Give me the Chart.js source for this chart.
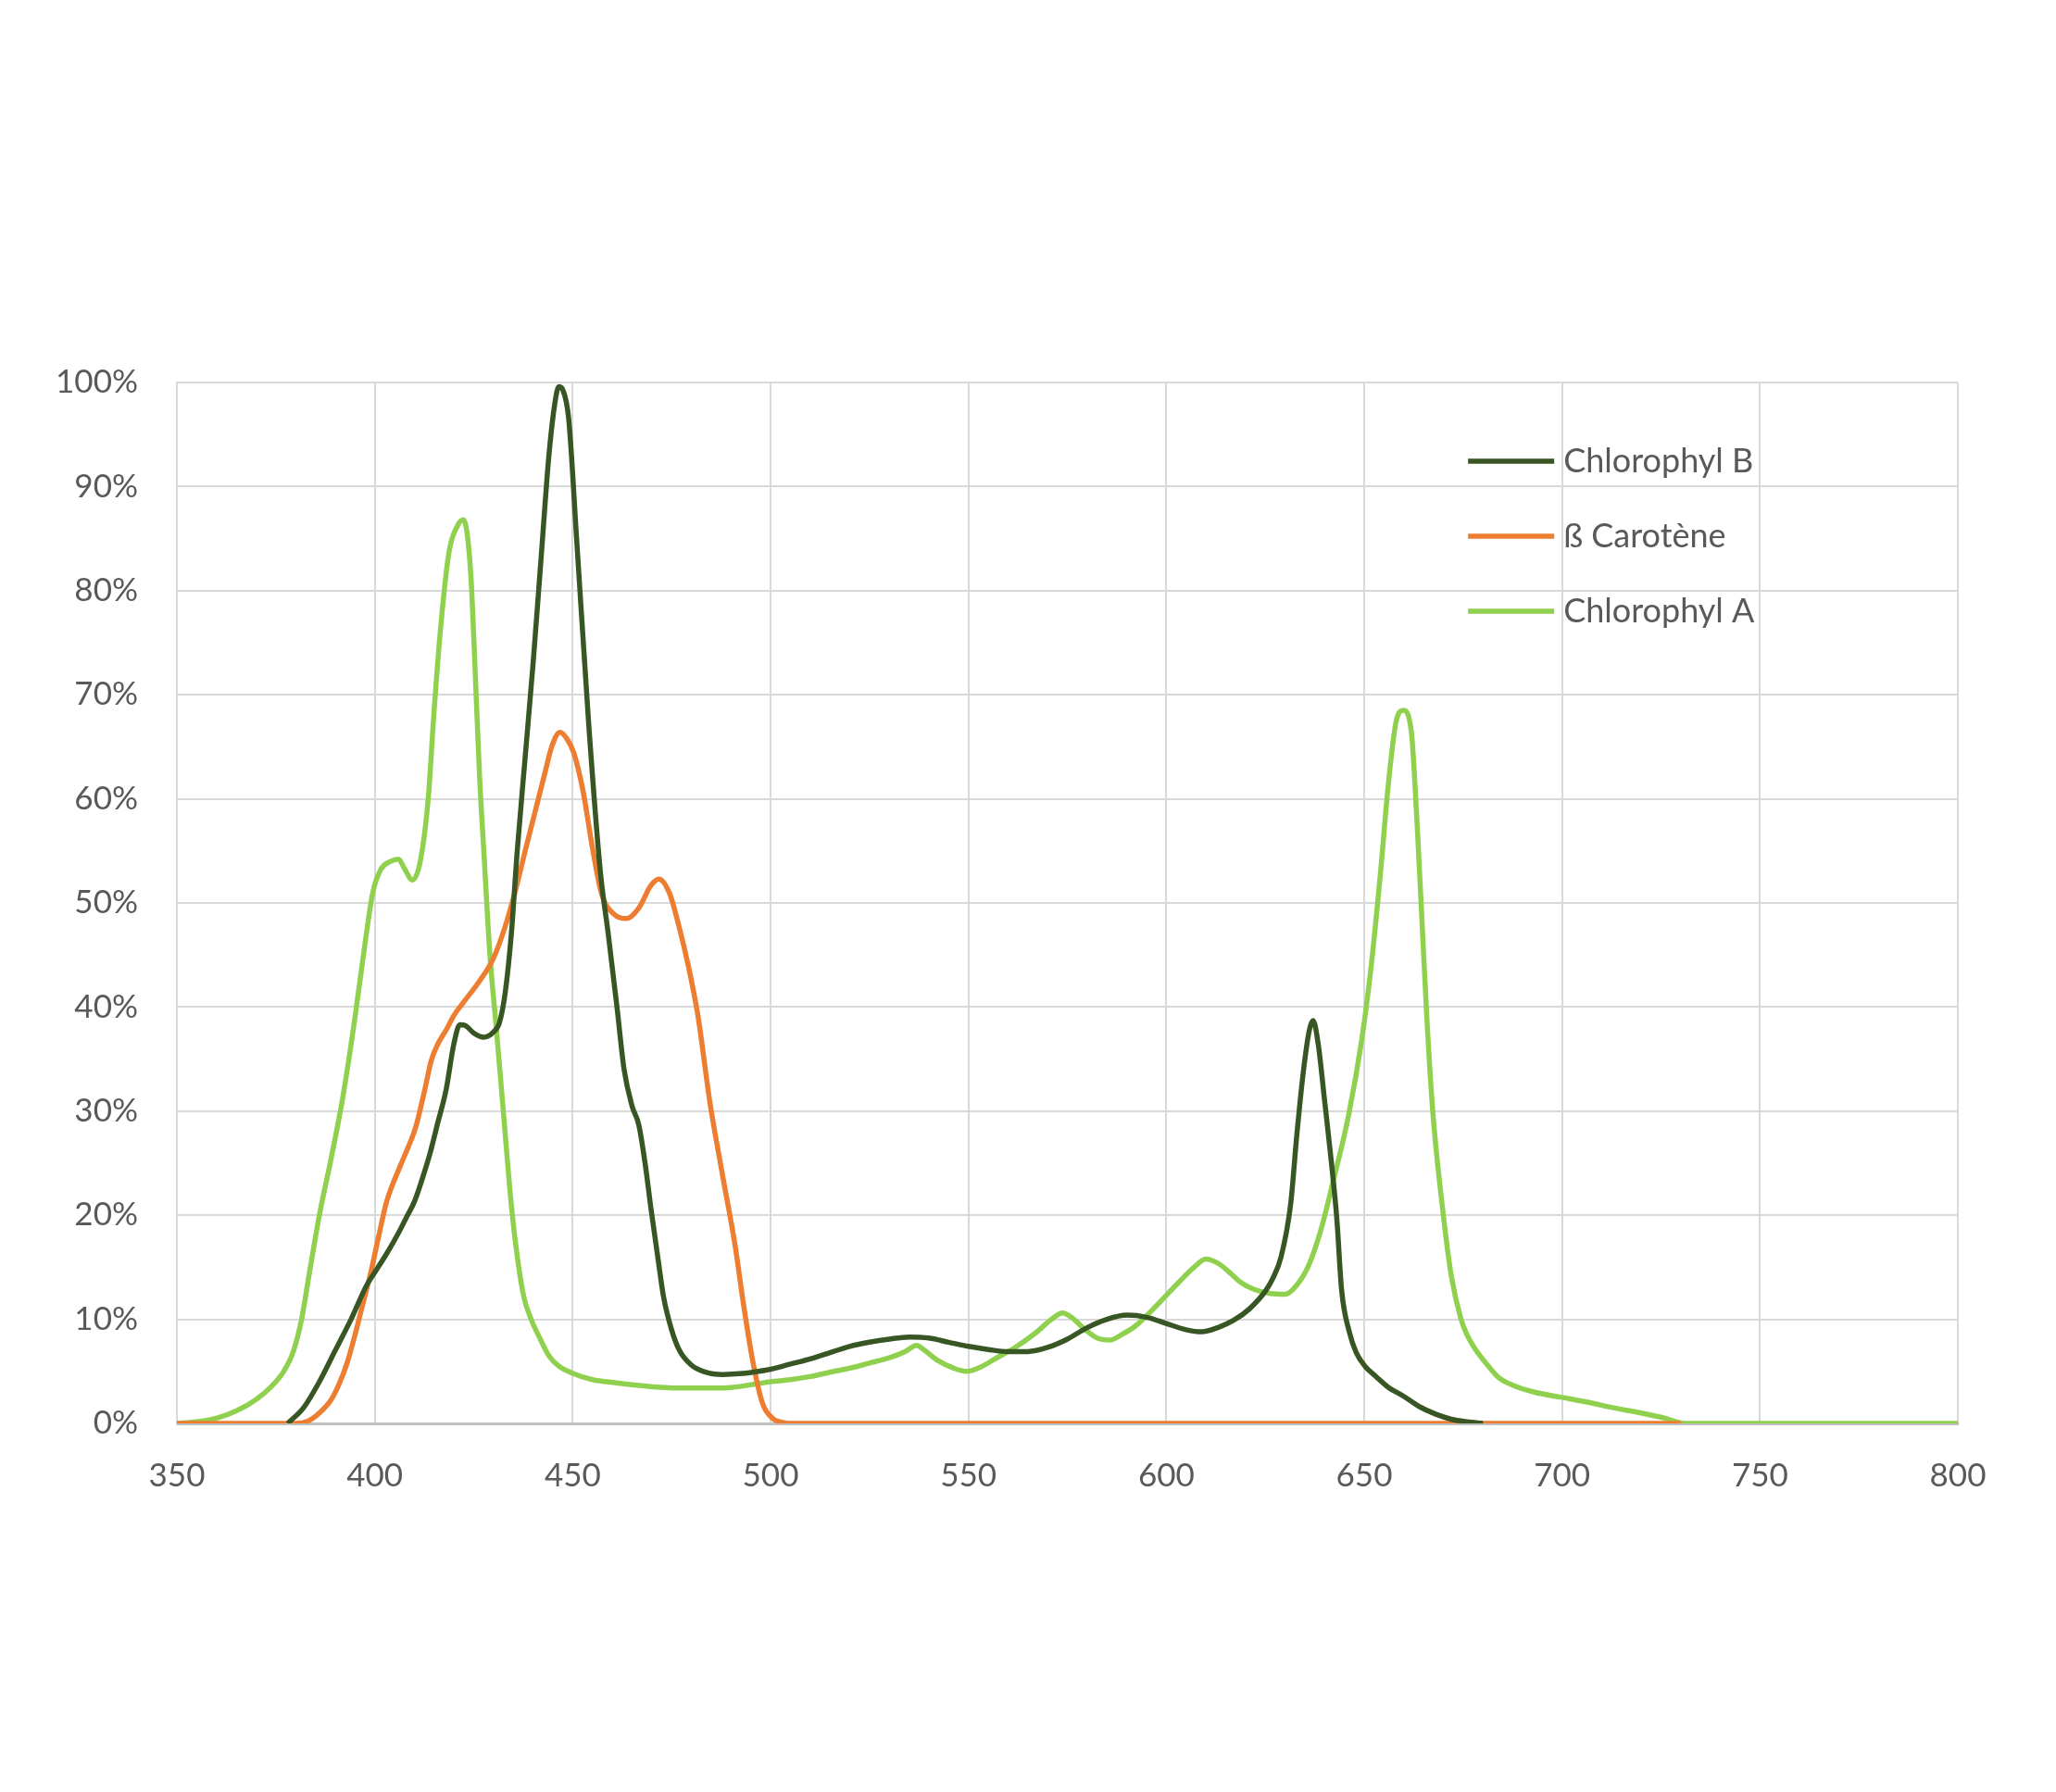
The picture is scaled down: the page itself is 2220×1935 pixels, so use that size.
<!DOCTYPE html>
<html>
<head>
<meta charset="utf-8">
<script src="https://cdn.jsdelivr.net/npm/chart.js@4.4.1/dist/chart.umd.min.js"></script>
<style>
  html, body { margin: 0; padding: 0; background: #ffffff; }
  #wrap { width: 2220px; height: 1935px; }
</style>
</head>
<body>
<div id="wrap"><canvas id="c" width="2220" height="1935"></canvas></div>
<script>
// ---------- DATA (wavelength in nm, absorption in %) ----------
const seriesNames = ["Chlorophyl B", "ß Carotène", "Chlorophyl A"];
const seriesColors = ["#375623", "#ED7D31", "#8FD14F"];

const chlBWavelengths = [378,382,386,390,394,398,400,403,406,408,410,412,414,416,418,420,421.5,423,425,427.5,430,431.5,433,434.5,436,438,440,442,444,445.5,446.5,447.5,449,451,454,457,459,461.2,463,465,466.7,468.3,469.8,471.5,473,475,477,480,483,488,493,497,500,505,510,515,520,525,530,535,540,545,550,555,560,565,570,575,580,585,590,595,600,605,609,613,617,621,625.2,627,629,631.4,633,634.6,636.1,637.1,638.4,640,641.6,643.1,644.3,646.3,648,650.2,653,656,660,664,668,672,676,680];
const chlBValues      = [0,1.5,4,7,10,13.3,14.5,16.3,18.3,19.8,21.3,23.5,26,29,32,36.5,38.3,38.2,37.5,37.1,37.6,38.5,41.5,47,55,64,73,83,93,98,99.6,99.3,96.5,85,67.5,53,47,40,34,30.5,28.7,25,20.6,16,12.1,9,7,5.6,5.0,4.7,4.8,5,5.2,5.7,6.2,6.8,7.4,7.8,8.1,8.3,8.2,7.8,7.4,7.1,6.9,6.9,7.3,8.1,9.2,10,10.4,10.2,9.6,9.0,8.8,9.2,9.9,11,12.8,14,16,21,27.8,33.7,37.7,38.7,36.4,31,25.5,19.6,12.8,8.7,6.8,5.5,4.5,3.5,2.6,1.6,0.9,0.4,0.15,0];

const carotWavelengths = [350,380,383,386,389,391,393,395,397,399,401,403,406.4,408.4,410.3,412.6,414.3,416,418.2,420,422.1,426.1,430,433,435.4,438,440.6,443,444.7,446.8,448.5,450.3,452.6,455,457.3,460.5,463.6,466.7,469.8,471.8,474.5,476.9,479.2,481.6,484.7,487.8,491,493.3,495.7,498,500.5,503,505,730];
const carotValues      = [0,0,0.2,1.0,2.3,3.8,5.8,8.5,11.5,14.5,18,21.3,24.7,26.5,28.4,32,34.9,36.5,37.9,39.2,40.3,42.3,44.7,47.8,51,55,58.9,62.5,65,66.4,65.8,64.4,60.8,55.3,50.9,48.9,48.5,49.5,51.7,52.3,50.9,47.7,44,39.3,30.8,24,17.2,11.1,5.6,1.9,0.5,0.1,0,0];

const chlAWavelengths = [350,355,360,365,370,374,377,379.5,381.5,383.5,386,389,392,395,397.5,399.5,401.5,404,406,407.5,409.5,411.5,413.5,415,416.7,418.8,421,422.4,423.5,424.5,425.5,426.5,427.6,429.1,430.7,432.3,434.6,436.2,437.7,439.5,441.7,444,446.5,449.5,455,461,468,477,485,490,496.5,500,505,510,516,520,525,530,534,536.9,539,542,546.3,549.5,553,556.7,561.8,567,571,573.8,576,579.5,582.5,585.7,589,592,598,603,607,610,613,616,619,622,626,630,633,636,639,642,646,649.4,651.7,654.1,656,658,659.9,661.9,663.4,664.6,665.8,667.3,669.7,672,674.4,676,678.3,681.4,684,687.4,693,700,707,713,720,726,731,740,800];
const chlAValues      = [0,0.15,0.5,1.2,2.3,3.6,5,7,10,14.5,20,25.5,31.5,39,46,51,53.2,54,54.2,53.3,52.2,54,60,68.5,76.7,83.8,86.3,86.8,85,80,71,62,54.7,45,38,30.8,20.6,15.5,12.1,10,8.2,6.5,5.5,4.9,4.2,3.9,3.6,3.4,3.4,3.45,3.8,4.0,4.2,4.5,5.0,5.3,5.8,6.3,6.9,7.5,7.0,6.1,5.3,5.0,5.4,6.2,7.3,8.7,10,10.6,10.2,9.0,8.2,8.0,8.6,9.3,11.5,13.5,15,15.8,15.4,14.5,13.5,12.9,12.5,12.4,13.3,15.2,18.5,23,29.5,36.9,43.7,52.8,61,67.3,68.5,66.5,57.4,48.3,39.2,30.1,21,14.2,10.1,8.5,7.0,5.5,4.4,3.7,3.0,2.5,2.0,1.5,1.0,0.5,0,0,0];

const xMin = 350, xMax = 800, xStep = 50;
const yMin = 0, yMax = 100, yStep = 10;

// ---------- BUILD ----------
function pts(xs, ys) { return xs.map((x, i) => ({ x: x, y: ys[i] })); }

const FONT = "Lato";
const TEXT_COLOR = "#595959";
const GRID_COLOR = "#D9D9D9";

const legendPlugin = {
  id: 'insideLegend',
  afterDraw(chart) {
    const ctx = chart.ctx;
    const area = chart.chartArea;
    const x0 = area.left + (area.right - area.left) * 0.725;
    const lineLen = 93;
    const y0 = area.top + 85;
    const rowH = 81;
    ctx.save();
    ctx.font = "36px " + FONT;
    ctx.textBaseline = "middle";
    ctx.textAlign = "left";
    chart.data.datasets.forEach((ds, i) => {
      const y = y0 + i * rowH;
      ctx.strokeStyle = ds.borderColor;
      ctx.lineWidth = 5.5;
      ctx.beginPath();
      ctx.moveTo(x0, y);
      ctx.lineTo(x0 + lineLen, y);
      ctx.stroke();
      ctx.fillStyle = TEXT_COLOR;
      ctx.fillText(ds.label, x0 + lineLen + 10, y);
    });
    ctx.restore();
  }
};

const datasets = [
  { label: seriesNames[0], data: pts(chlBWavelengths, chlBValues), borderColor: seriesColors[0] },
  { label: seriesNames[1], data: pts(carotWavelengths, carotValues), borderColor: seriesColors[1] },
  { label: seriesNames[2], data: pts(chlAWavelengths, chlAValues), borderColor: seriesColors[2] }
].map(d => Object.assign(d, {
  borderWidth: 5.5,
  pointRadius: 0,
  fill: false,
  cubicInterpolationMode: 'monotone',
  backgroundColor: d.borderColor
}));

new Chart(document.getElementById('c'), {
  type: 'line',
  data: { datasets: datasets },
  options: {
    responsive: false,
    devicePixelRatio: 1,
    animation: false,
    events: [],
    layout: { padding: { top: 413, right: 106, left: 0, bottom: 0 } },
    plugins: { legend: { display: false }, tooltip: { enabled: false } },
    scales: {
      x: {
        type: 'linear',
        min: xMin, max: xMax,
        afterFit(scale) { scale.height = 398; },
        ticks: { stepSize: xStep, padding: 36, color: TEXT_COLOR, font: { family: FONT, size: 35 }, maxRotation: 0 },
        grid: { color: GRID_COLOR, lineWidth: 2, drawTicks: false },
        border: { color: '#BFBFBF', width: 3 }
      },
      y: {
        min: yMin, max: yMax,
        afterFit(scale) { scale.width = 191; },
        ticks: { stepSize: yStep, padding: 42, color: TEXT_COLOR, font: { family: FONT, size: 35 }, callback: v => v + '%' },
        grid: { color: GRID_COLOR, lineWidth: 2, drawTicks: false },
        border: { color: GRID_COLOR, width: 2 }
      }
    }
  },
  plugins: [legendPlugin]
});
</script>
</body>
</html>
